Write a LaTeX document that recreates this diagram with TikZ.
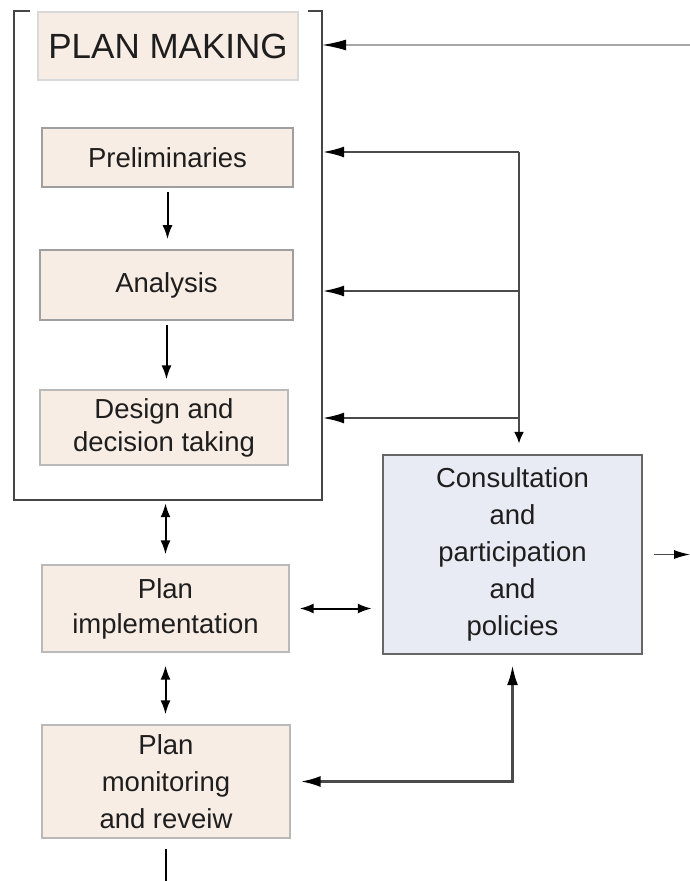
\documentclass[tikz,border=0pt]{standalone}
\usepackage{fontspec}
\setmainfont{Liberation Sans}
\usetikzlibrary{arrows.meta}
\definecolor{peach}{HTML}{F8EDE5}
\definecolor{paleblue}{HTML}{E8EBF3}
\definecolor{ink}{HTML}{1E1E1E}
\definecolor{wire}{HTML}{4A4A4A}

\begin{document}
\begin{tikzpicture}[x=1pt, y=-1pt,
    stage/.style={draw=gray!55, line width=1.2pt, fill=peach, text=ink, align=center,
        inner sep=0pt, font=\fontsize{27.5}{36}\selectfont},
    link/.style={draw=wire, line width=2.6pt, -{Latex[length=22pt,width=11pt,color=black]}},
    small/.style={draw=black, line width=2pt, -{Latex[length=14pt,width=10pt]},
        shorten >=10pt, shorten <=4pt},
    both/.style={small, {Latex[length=14pt,width=10pt]}-{Latex[length=14pt,width=10pt]}}]
    \useasboundingbox (0,0) rectangle (690,881);

    % plan making frame
    \node[minimum width=308pt, minimum height=489pt, inner sep=0pt] (frame) at (168,255.5) {};
    \draw[gray!55!black, line width=2.2pt] ([xshift=16pt]frame.north west) -- (frame.north west)
        -- (frame.south west) -- (frame.south east) -- (frame.north east) -- ([xshift=-14pt]frame.north east);

    \node[stage, draw=gray!30, minimum width=260pt, minimum height=68pt,
        font=\fontsize{35}{40}\selectfont] (plan) at (168,46) {PLAN MAKING};
    \node[stage, draw=gray!75, line width=1.6pt, minimum width=251pt, minimum height=59pt] (prelim) at (167.5,157.5) {Preliminaries};
    \node[stage, draw=gray!75, line width=1.6pt, minimum width=253pt, minimum height=70pt] (analysis) at (166.5,285) {Analysis};
    \node[stage, minimum width=248pt, minimum height=75pt, font=\fontsize{27.5}{33}\selectfont]
        (design) at (164,427.5) {Design and\\decision taking};

    % after the plan
    \node[stage, minimum width=247pt, minimum height=87pt, font=\fontsize{27.5}{35}\selectfont]
        (impl) at (165.5,608.5) {Plan\\implementation};
    \node[stage, minimum width=248pt, minimum height=113pt, font=\fontsize{27.5}{37}\selectfont]
        (monitor) at (166,781.5) {Plan\\monitoring\\and reveiw};
    \node[stage, draw=gray!80!black, line width=2.4pt, fill=paleblue, minimum width=259pt,
        minimum height=199pt, font=\fontsize{27.5}{37}\selectfont]
        (consult) at (512.5,554.5) {Consultation\\and\\participation\\and\\policies};

    % flow down
    \draw[small] (prelim.south) -- (prelim.south |- analysis.north);
    \draw[small] (analysis.south) -- (analysis.south |- design.north);
    \draw[both, shorten <=3pt] (impl.north |- frame.south) -- (impl.north);
    \draw[both, shorten <=13pt] (impl.south) -- (impl.south |- monitor.north);
    \coordinate (exit) at (166,881);
    \draw[small, -, shorten >=0pt, shorten <=10pt] (monitor.south) -- (exit);

    % feedback bus
    \coordinate (t1) at (519,152);
    \coordinate (t2) at (519,291);
    \coordinate (t3) at (519,418);
    \draw[link] (t1) -- (t1 -| frame.east);
    \draw[link] (t2) -- (t2 -| frame.east);
    \draw[link] (t3) -- (t3 -| frame.east);
    \draw[link, -] (t1) -- (t3);
    \draw[link, -{Latex[length=12pt,width=10pt,color=black]}, shorten >=10pt] (t3) -- (t3 |- consult.north);

    \coordinate (src) at (690,45);
    \draw[draw=gray!70, line width=1.2pt, -{Latex[length=24pt,width=11pt,color=black]}] (src) -- (src -| frame.east);

    \draw[both, shorten <=10pt] (impl) -- (impl -| consult.west);
    \draw[link, {Latex[length=20pt,width=11pt,color=black]}-{Latex[length=20pt,width=11pt,color=black]},
        shorten <=10pt, shorten >=10pt] (monitor.east) -| (consult.south);

    \coordinate (out) at (690,554.5);
    \draw[draw=wire, line width=1.2pt, -{Latex[length=16pt,width=9pt,color=black]}, shorten <=11pt] (consult) -- (out);
\end{tikzpicture}
\end{document}
